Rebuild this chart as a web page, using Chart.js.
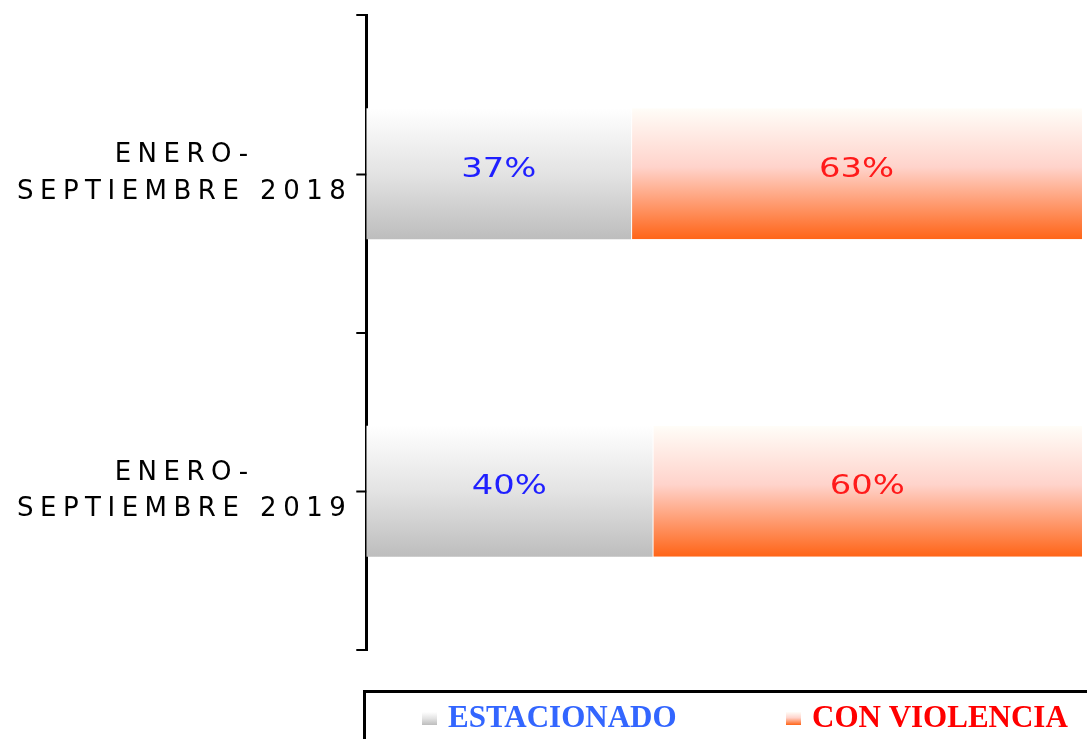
<!DOCTYPE html>
<html>
<head>
<meta charset="utf-8">
<script src="https://cdn.jsdelivr.net/npm/chart.js@4.4.1/dist/chart.umd.min.js"></script>
<style>
  html, body { margin: 0; padding: 0; background: #fff; }
  canvas { display: block; }
</style>
</head>
<body>
<canvas id="roboChart" width="1087" height="739"></canvas>
<script>
// datos
const categories = [['ENERO-', 'SEPTIEMBRE 2018'], ['ENERO-', 'SEPTIEMBRE 2019']];
const estacionado = [37, 40];
const conViolencia = [63, 60];
const seriesNames = ['ESTACIONADO', 'CON VIOLENCIA'];
const labelColors = ['#1f1fff', '#ff1a1a'];
const legendColors = ['#3366ff', '#ff0000'];

const BAR_PCT = 0.413;
const grayStops = [[0, '#ffffff'], [0.5, '#e3e3e3'], [1, '#bdbdbd']];
const orangeStops = [[0, '#fffdf8'], [0.45, '#ffd3cb'], [1, '#ff6417']];

function barGradient(context, stops) {
    const chart = context.chart;
    const y = chart.scales.y;
    if (!chart.chartArea || !y) return stops[stops.length - 1][1];
    const c = y.getPixelForValue(context.dataIndex);
    const half = (y.height / chart.data.labels.length) * BAR_PCT / 2;
    const g = chart.ctx.createLinearGradient(0, c - half, 0, c + half);
    stops.forEach(s => g.addColorStop(s[0], s[1]));
    return g;
}

const spacingPlugin = {
    id: 'spacing',
    beforeLayout(chart) { chart.ctx.letterSpacing = '6.5px'; },
    beforeDraw(chart) { chart.ctx.letterSpacing = '6.5px'; }
};

const extrasPlugin = {
    id: 'extras',
    afterDraw(chart) {
        const ctx = chart.ctx;
        const y = chart.scales.y;
        ctx.save();
        // ticks al centro de cada categoria
        ctx.strokeStyle = '#000';
        ctx.lineWidth = 2;
        chart.data.labels.forEach((l, i) => {
            const py = Math.round(y.getPixelForValue(i)) + 0.5;
            ctx.beginPath();
            ctx.moveTo(y.right - 10, py);
            ctx.lineTo(y.right, py);
            ctx.stroke();
        });
        // etiquetas de porcentaje (texto ensanchado)
        ctx.letterSpacing = '0px';
        ctx.font = '26px "DejaVu Sans"';
        ctx.textAlign = 'center';
        ctx.textBaseline = 'middle';
        chart.data.datasets.forEach((ds, di) => {
            const meta = chart.getDatasetMeta(di);
            meta.data.forEach((bar, i) => {
                const cx = (bar.x + bar.base) / 2;
                ctx.save();
                ctx.translate(cx, bar.y - 4);
                ctx.scale(1.3, 1);
                ctx.fillStyle = labelColors[di];
                ctx.fillText(ds.data[i] + '%', 0, 0);
                ctx.restore();
            });
        });
        // leyenda
        ctx.lineWidth = 3;
        ctx.strokeStyle = '#000';
        ctx.strokeRect(364.5, 691.5, 800, 100);
        ctx.font = 'bold 31px "Liberation Serif"';
        ctx.textAlign = 'left';
        ctx.textBaseline = 'alphabetic';
        const items = [{x: 422, stops: grayStops}, {x: 786, stops: orangeStops}];
        items.forEach((it, i) => {
            const g = ctx.createLinearGradient(0, 712, 0, 725);
            it.stops.forEach(s => g.addColorStop(s[0], s[1]));
            ctx.fillStyle = g;
            ctx.fillRect(it.x, 712, 15, 13);
            ctx.fillStyle = legendColors[i];
            ctx.fillText(chart.data.datasets[i].label, it.x + 26, 727);
        });
        ctx.restore();
    }
};

new Chart(document.getElementById('roboChart').getContext('2d'), {
    type: 'bar',
    data: {
        labels: categories,
        datasets: [{
            label: seriesNames[0],
            data: estacionado,
            backgroundColor: c => barGradient(c, grayStops),
            borderWidth: 0
        }, {
            label: seriesNames[1],
            data: conViolencia,
            backgroundColor: c => barGradient(c, orangeStops),
            borderColor: '#ffffff',
            borderWidth: {left: 1, right: 0, top: 0, bottom: 0},
            borderSkipped: false
        }]
    },
    options: {
        indexAxis: 'y',
        responsive: false,
        animation: false,
        layout: { padding: { left: 13, right: 5, top: 15, bottom: 89 } },
        datasets: { bar: { categoryPercentage: 1, barPercentage: BAR_PCT } },
        plugins: {
            legend: { display: false },
            tooltip: { enabled: false }
        },
        scales: {
            x: {
                stacked: true,
                display: false,
                min: 0,
                max: 100
            },
            y: {
                stacked: true,
                border: { display: true, color: '#000', width: 3 },
                grid: {
                    offset: true,
                    drawOnChartArea: false,
                    color: '#000',
                    lineWidth: 2,
                    tickLength: 10
                },
                ticks: {
                    crossAlign: 'center',
                    padding: 4,
                    color: '#000',
                    font: { family: 'DejaVu Sans', size: 26, lineHeight: 1.385 }
                },
                afterFit(scale) {
                    scale.paddingTop = 0;
                    scale.paddingBottom = 0;
                }
            }
        }
    },
    plugins: [spacingPlugin, extrasPlugin]
});
</script>
</body>
</html>
